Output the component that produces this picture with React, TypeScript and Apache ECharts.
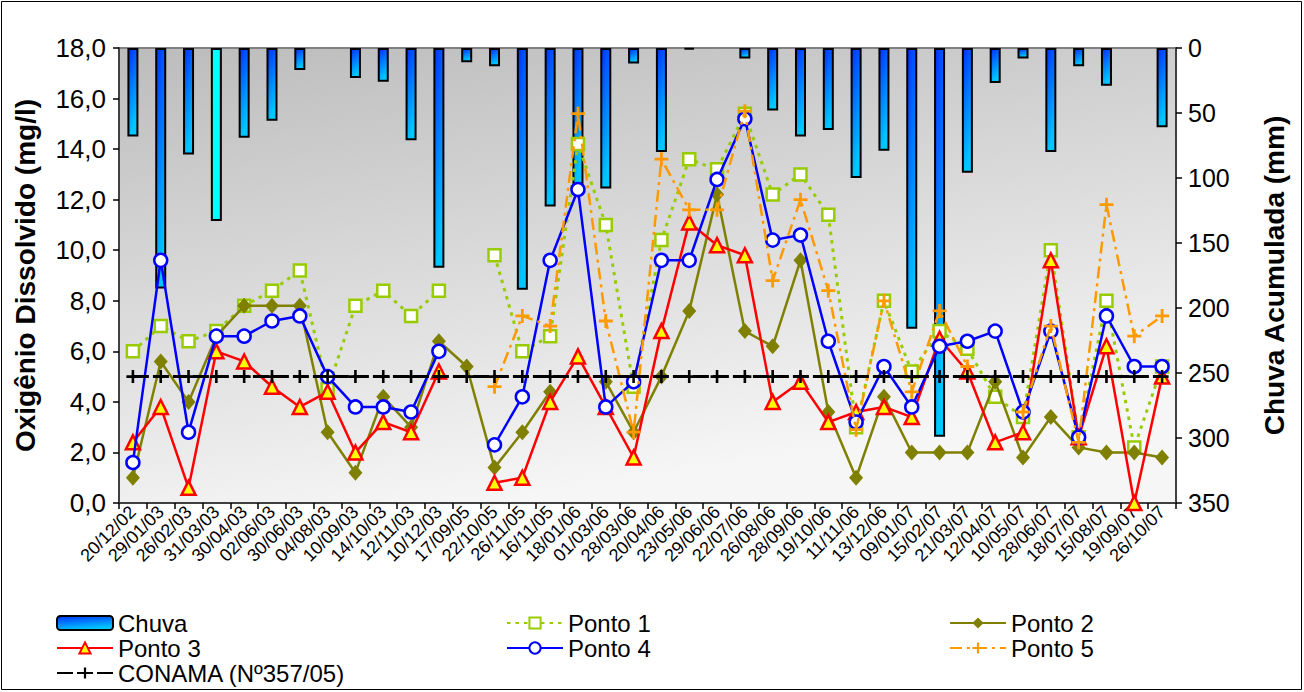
import React, { useEffect, useRef } from "react";
import * as echarts from "echarts";

const categories = [
  "20/12/02", "29/01/03", "26/02/03", "31/03/03", "30/04/03", "02/06/03", "30/06/03", "04/08/03",
  "10/09/03", "14/10/03", "12/11/03", "10/12/03", "17/09/05", "22/10/05", "26/11/05", "16/11/05",
  "18/01/06", "01/03/06", "28/03/06", "20/04/06", "23/05/06", "29/06/06", "22/07/06", "26/08/06",
  "28/09/06", "19/10/06", "11/11/06", "13/12/06", "09/01/07", "15/02/07", "21/03/07", "12/04/07",
  "10/05/07", "28/06/07", "18/07/07", "15/08/07", "19/09/07", "26/10/07",
];

const chuva = [68, 185, 82, 133, 69, 56, 17, 0, 23, 26, 71, 169, 11, 14, 186, 122, 105, 108, 12, 80, 1, 0, 8, 48, 68, 63, 100, 79, 216, 299, 96, 27, 8, 80, 14, 29, 0, 61];

const ponto1 = [6.0, 7.0, 6.4, 6.8, 7.8, 8.4, 9.2, 4.5, 7.8, 8.4, 7.4, 8.4, null, 9.8, 6.0, 6.6, 14.2, 11.0, 4.6, 10.4, 13.6, 13.2, 15.4, 12.2, 13.0, 11.4, 3.0, 8.0, 5.2, 6.8, 6.1, 4.2, 3.4, 10.0, 2.6, 8.0, 2.2, 5.4];
const ponto2 = [1.0, 5.6, 4.0, 6.6, 7.8, 7.8, 7.8, 2.8, 1.2, 4.2, 3.0, 6.4, 5.4, 1.4, 2.8, 4.4, null, 4.8, 2.8, 5.0, 7.6, 12.2, 6.8, 6.2, 9.6, 3.6, 1.0, 4.2, 2.0, 2.0, 2.0, 4.8, 1.8, 3.4, 2.2, 2.0, 2.0, 1.8];
const ponto3 = [2.4, 3.8, 0.6, 6.0, 5.6, 4.6, 3.8, 4.4, 2.0, 3.2, 2.8, 5.2, null, 0.8, 1.0, 4.0, 5.8, 3.8, 1.8, 6.8, 11.1, 10.2, 9.8, 4.0, 4.8, 3.2, 3.6, 3.8, 3.4, 6.5, 5.2, 2.4, 2.8, 9.6, 2.6, 6.2, 0.0, 5.0];
const ponto4 = [1.6, 9.6, 2.8, 6.6, 6.6, 7.2, 7.4, 5.0, 3.8, 3.8, 3.6, 6.0, null, 2.3, 4.2, 9.6, 12.4, 3.8, 4.8, 9.6, 9.6, 12.8, 15.2, 10.4, 10.6, 6.4, 3.2, 5.4, 3.8, 6.2, 6.4, 6.8, 3.6, 6.8, 2.6, 7.4, 5.4, 5.4];
const ponto5 = [null, null, null, null, null, null, null, null, null, null, null, null, null, 4.6, 7.4, 7.0, 15.4, 7.2, 2.8, 13.6, 11.6, 11.6, 15.5, 8.8, 12.0, 8.4, 2.9, 8.0, 4.4, 7.6, 5.4, null, 3.6, 7.0, 2.4, 11.8, 6.6, 7.4];
const conama = categories.map(() => 5.0);

const leftTicks = { min: 0, max: 18, interval: 2 };
const rightTicks = { min: 0, max: 350, interval: 50 };

const PLUS = "path://M0,4H10V6H0Z M4,0H6V10H4Z";
const FONT = "Arial, 'Liberation Sans', sans-serif";

export default function App() {
  const ref = useRef<HTMLDivElement>(null);

  useEffect(() => {
    if (!ref.current) return;
    const chart = echarts.init(ref.current, null, { renderer: "svg" });

    const barGrad = new echarts.graphic.LinearGradient(0, 0, 0.3, 1, [
      { offset: 0, color: "#0030ff" },
      { offset: 1, color: "#00c8ff" },
    ]);

    const chuvaData = chuva.map((v, i) => {
      if (v === 0) return "-";
      if (i === 3) return { value: v, itemStyle: { color: "#00ffff" } };
      return v;
    });

    const legendText = { fontSize: 24, lineHeight: 24, color: "#000", fontFamily: FONT };
    const mkLegend = (name: string, left: number, top: number) => ({
      data: [name],
      left,
      top,
      padding: 0,
      itemWidth: 56,
      itemHeight: 14,
      itemGap: 0,
      textStyle: legendText,
      selectedMode: false,
    });

    const option: any = {
      animation: false,
      backgroundColor: "#ffffff",
      textStyle: { fontFamily: FONT },
      grid: {
        left: 119,
        right: 128,
        top: 48,
        bottom: 189,
        show: true,
        borderColor: "#808080",
        borderWidth: 2,
        backgroundColor: new echarts.graphic.LinearGradient(0, 0, 0.35, 1, [
          { offset: 0, color: "#bcbcbc" },
          { offset: 1, color: "#f6f6f6" },
        ]),
      },
      legend: [
        mkLegend("Chuva", 56, 611),
        mkLegend("Ponto 1", 506, 611),
        mkLegend("Ponto 2", 949, 611),
        mkLegend("Ponto 3", 56, 636),
        mkLegend("Ponto 4", 506, 636),
        mkLegend("Ponto 5", 949, 636),
        mkLegend("CONAMA (Nº357/05)", 56, 661),
      ],
      graphic: [
        {
          type: "rect",
          shape: { x: 1.5, y: 1.5, width: 1300, height: 688 },
          style: { fill: "none", stroke: "#000", lineWidth: 1 },
          silent: true,
        },
      ],
      xAxis: {
        type: "category",
        data: categories,
        boundaryGap: true,
        axisLine: { show: true, lineStyle: { color: "#404040", width: 2 } },
        axisTick: { show: true, interval: 0, length: 6, lineStyle: { color: "#000", width: 1.5 } },
        axisLabel: {
          interval: 0,
          rotate: 45,
          fontSize: 18,
          color: "#000",
          margin: 6,
          fontFamily: FONT,
        },
        splitLine: { show: false },
      },
      yAxis: [
        {
          type: "value",
          min: leftTicks.min,
          max: leftTicks.max,
          interval: leftTicks.interval,
          position: "left",
          name: "Oxigênio Dissolvido (mg/l)",
          nameLocation: "middle",
          nameRotate: 90,
          nameGap: 80,
          nameTextStyle: { fontSize: 28, fontWeight: "bold", color: "#000", fontFamily: FONT },
          axisLine: { show: true, lineStyle: { color: "#404040", width: 2 } },
          axisTick: { show: true, length: 6, lineStyle: { color: "#000", width: 1.5 } },
          axisLabel: {
            fontSize: 26,
            color: "#000",
            margin: 13,
            fontFamily: FONT,
            formatter: (v: number) => v.toFixed(1).replace(".", ","),
          },
          splitLine: { show: false },
        },
        {
          type: "value",
          min: rightTicks.min,
          max: rightTicks.max,
          interval: rightTicks.interval,
          inverse: true,
          position: "right",
          name: "Chuva Acumulada (mm)",
          nameLocation: "middle",
          nameRotate: 90,
          nameGap: 84,
          nameTextStyle: { fontSize: 28, fontWeight: "bold", color: "#000", fontFamily: FONT },
          axisLine: { show: true, lineStyle: { color: "#404040", width: 2 } },
          axisTick: { show: true, length: 6, lineStyle: { color: "#000", width: 1.5 } },
          axisLabel: { fontSize: 25, color: "#000", margin: 12, fontFamily: FONT },
          splitLine: { show: false },
        },
      ],
      series: [
        {
          name: "Chuva",
          type: "bar",
          yAxisIndex: 1,
          data: chuvaData,
          barWidth: 11,
          itemStyle: { color: barGrad, borderColor: "#000", borderWidth: 2 },
          z: 1,
        },
        {
          name: "Ponto 1",
          type: "line",
          data: ponto1,
          symbol: "rect",
          symbolSize: 12,
          lineStyle: { color: "#99cc00", width: 3, type: [3.5, 5] },
          itemStyle: { color: "#ffffff", borderColor: "#99cc00", borderWidth: 2.5 },
          z: 3,
        },
        {
          name: "Ponto 2",
          type: "line",
          data: ponto2,
          symbol: "diamond",
          symbolSize: [14, 16],
          lineStyle: { color: "#808000", width: 2.5 },
          itemStyle: { color: "#808000", borderColor: "#808000", borderWidth: 0 },
          z: 4,
        },
        {
          name: "Ponto 3",
          type: "line",
          data: ponto3,
          symbol: "triangle",
          symbolSize: 14,
          lineStyle: { color: "#ff0000", width: 2.5 },
          itemStyle: { color: "#ffff00", borderColor: "#ff0000", borderWidth: 2.5 },
          z: 5,
        },
        {
          name: "Ponto 4",
          type: "line",
          data: ponto4,
          symbol: "circle",
          symbolSize: 13,
          lineStyle: { color: "#0000ff", width: 2.5 },
          itemStyle: { color: "#ffffff", borderColor: "#0000ff", borderWidth: 2.5 },
          z: 6,
        },
        {
          name: "Ponto 5",
          type: "line",
          data: ponto5,
          symbol: PLUS,
          symbolSize: 14,
          lineStyle: { color: "#ff9900", width: 2.5, type: [12, 5, 3, 5] },
          itemStyle: { color: "#ff9900", borderWidth: 0 },
          z: 7,
        },
        {
          name: "CONAMA (Nº357/05)",
          type: "line",
          data: conama,
          symbol: PLUS,
          symbolSize: 13,
          lineStyle: { color: "#000000", width: 3, type: [16, 4] },
          itemStyle: { color: "#000000", borderWidth: 0 },
          z: 8,
        },
      ],
    };

    chart.setOption(option);
    return () => chart.dispose();
  }, []);

  return (
    <div
      ref={ref}
      style={{ position: "fixed", left: 0, top: 0, width: 1304, height: 692 }}
    />
  );
}
